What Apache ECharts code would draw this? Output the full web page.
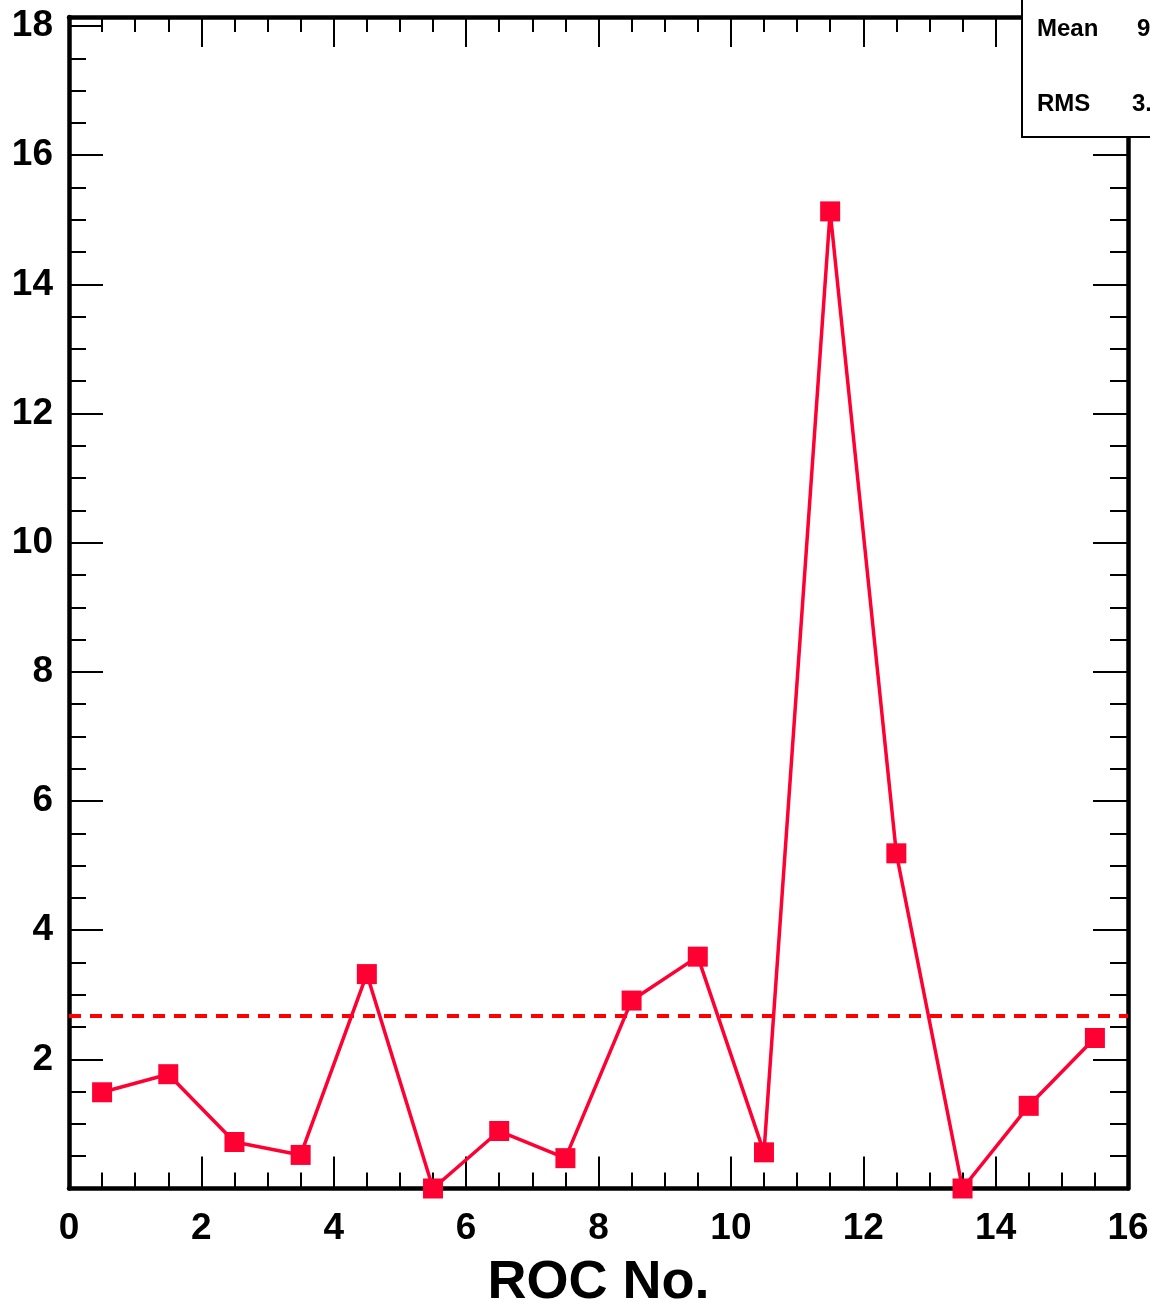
<!DOCTYPE html>
<html>
<head>
<meta charset="utf-8">
<script src="https://cdn.jsdelivr.net/npm/echarts@6/dist/echarts.min.js"></script>
<style>
html,body{margin:0;padding:0;background:#fff;}
#chart{width:1150px;height:1307px;}
</style>
</head>
<body>
<div id="chart"></div>
<script>
// ---- data ----
const rocNo = [0.5, 1.5, 2.5, 3.5, 4.5, 5.5, 6.5, 7.5, 8.5, 9.5, 10.5, 11.5, 12.5, 13.5, 14.5, 15.5];
const values = [1.49, 1.77, 0.72, 0.52, 3.32, 0.0, 0.89, 0.47, 2.91, 3.59, 0.56, 15.13, 5.19, 0.0, 1.28, 2.33];
const meanLevel = 2.67;
const xMajorTicks = [0, 2, 4, 6, 8, 10, 12, 14, 16];
const xMinorTicks = [0.5, 1, 1.5, 2.5, 3, 3.5, 4.5, 5, 5.5, 6.5, 7, 7.5, 8.5, 9, 9.5, 10.5, 11, 11.5, 12.5, 13, 13.5, 14.5, 15, 15.5];
const yMajorTicks = [0, 2, 4, 6, 8, 10, 12, 14, 16, 18];
const yLabelValues = [2, 4, 6, 8, 10, 12, 14, 16, 18];
const yMinorTicks = [0.5, 1, 1.5, 2.5, 3, 3.5, 4.5, 5, 5.5, 6.5, 7, 7.5, 8.5, 9, 9.5, 10.5, 11, 11.5, 12.5, 13, 13.5, 14.5, 15, 15.5, 16.5, 17, 17.5];
const statLabels = ['Mean', 'RMS'];
const statValues = ['9.69', '3.89'];
const xTitle = 'ROC No.';

const FONT = '"Liberation Sans", Arial, Helvetica, sans-serif';
const X_MIN = 0, X_MAX = 16, Y_MIN = 0, Y_MAX = 18.14;

function xAx(pos, ticks, len, showLine, showLabel) {
  return {
    type: 'value', position: pos, min: X_MIN, max: X_MAX,
    axisLine: { show: showLine, onZero: false, lineStyle: { color: '#000', width: 4.5 } },
    axisTick: { show: true, inside: true, length: len, customValues: ticks, lineStyle: { color: '#000', width: 2 } },
    axisLabel: showLabel ? {
      show: true, customValues: xMajorTicks, margin: 22,
      fontFamily: FONT, fontWeight: 'bold', fontSize: 37, color: '#000'
    } : { show: false },
    splitLine: { show: false }
  };
}
function yAx(pos, ticks, len, showLine, showLabel) {
  return {
    type: 'value', position: pos, min: Y_MIN, max: Y_MAX,
    axisLine: { show: showLine, onZero: false, lineStyle: { color: '#000', width: 4.5 } },
    axisTick: { show: true, inside: true, length: len, customValues: ticks, lineStyle: { color: '#000', width: 2 } },
    axisLabel: showLabel ? {
      show: true, customValues: yLabelValues, margin: 16, padding: [6, 0, 0, 0],
      fontFamily: FONT, fontWeight: 'bold', fontSize: 37, color: '#000'
    } : { show: false },
    splitLine: { show: false }
  };
}

const xAxes = [
  xAx('bottom', xMajorTicks, 32, true, true),
  xAx('bottom', xMinorTicks, 16, false, false),
  xAx('top', xMajorTicks, 30, true, false),
  xAx('top', xMinorTicks, 15, false, false)
];
xAxes[0].name = xTitle;
xAxes[0].nameLocation = 'middle';
xAxes[0].nameGap = 68;
xAxes[0].nameTextStyle = { fontFamily: FONT, fontWeight: 'bold', fontSize: 54, color: '#000' };

const yAxes = [
  yAx('left', yMajorTicks, 34, true, true),
  yAx('left', yMinorTicks, 17, false, false),
  yAx('right', yMajorTicks, 35, true, false),
  yAx('right', yMinorTicks, 18, false, false)
];

const chart = echarts.init(document.getElementById('chart'), null, { renderer: 'canvas' });
chart.setOption({
  backgroundColor: '#fff',
  animation: false,
  grid: { left: 69, right: 22, top: 17, bottom: 118.5, containLabel: false, outerBoundsMode: 'none' },
  xAxis: xAxes,
  yAxis: yAxes,
  series: [
    {
      type: 'line', xAxisIndex: 0, yAxisIndex: 0,
      data: [[X_MIN, meanLevel], [X_MAX, meanLevel]],
      symbol: 'none', clip: false, silent: true,
      lineStyle: { color: '#ff0000', width: 4, type: [12, 9] },
      z: 3
    },
    {
      type: 'line', xAxisIndex: 0, yAxisIndex: 0,
      data: rocNo.map((x, i) => [x, values[i]]),
      symbol: 'rect', symbolSize: 20, clip: false,
      itemStyle: { color: '#ff0033' },
      lineStyle: { color: '#ff0033', width: 3.5 },
      z: 4
    }
  ],
  graphic: [
    {
      type: 'rect', z: 100,
      shape: { x: 1022, y: -5, width: 200, height: 142 },
      style: { fill: '#fff', stroke: '#000', lineWidth: 2 }
    },
    {
      type: 'text', z: 101, left: 1037, top: 17,
      style: { text: statLabels[0], fontFamily: FONT, fontWeight: 'bold', fontSize: 24, fill: '#000' }
    },
    {
      type: 'text', z: 101, left: 1137, top: 17,
      style: { text: statValues[0], fontFamily: FONT, fontWeight: 'bold', fontSize: 24, fill: '#000' }
    },
    {
      type: 'text', z: 101, left: 1037, top: 92,
      style: { text: statLabels[1], fontFamily: FONT, fontWeight: 'bold', fontSize: 24, fill: '#000' }
    },
    {
      type: 'text', z: 101, left: 1132, top: 92,
      style: { text: statValues[1], fontFamily: FONT, fontWeight: 'bold', fontSize: 24, fill: '#000' }
    }
  ]
});
</script>
</body>
</html>
